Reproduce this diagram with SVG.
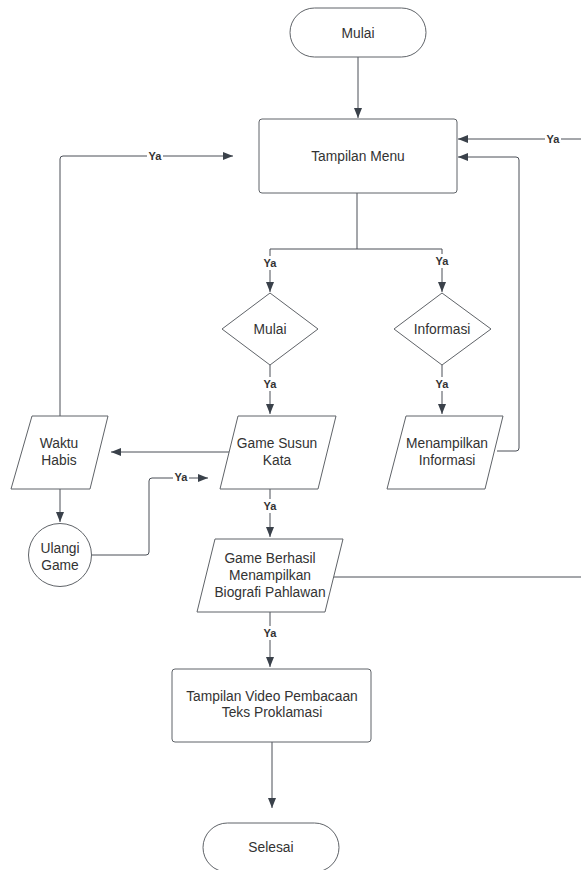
<svg xmlns="http://www.w3.org/2000/svg" width="581" height="870" viewBox="0 0 581 870">
<style>
.shape{fill:#ffffff;stroke:#5f6368;stroke-width:1}
.t{font-family:"Liberation Sans",Arial,sans-serif;font-size:13.8px;fill:#333333;text-anchor:middle;dominant-baseline:central}
.lbl{font-family:"Liberation Sans",Arial,sans-serif;font-size:11px;font-weight:bold;fill:#333333;text-anchor:middle;dominant-baseline:central}
.c{fill:none;stroke:#4a4f57;stroke-width:1}
.bg{fill:#ffffff}
</style>
<defs>
<marker id="arr" markerWidth="10" markerHeight="8" refX="10" refY="4" orient="auto" markerUnits="userSpaceOnUse">
<path d="M0,0 L10,4 L0,8 z" fill="#3a414a"/>
</marker>
</defs>
<rect width="581" height="870" fill="#ffffff"/>
<g id="connectors">
<path class="c" d="M358,57 V118" marker-end="url(#arr)"/>
<path class="c" d="M581,139 H458" marker-end="url(#arr)"/>
<path class="c" d="M497,451 H516 Q519,451 519,448 V160 Q519,157 516,157 H458" marker-end="url(#arr)"/>
<path class="c" d="M60,416 V159 Q60,156 63,156 H233" marker-end="url(#arr)"/>
<path class="c" d="M357,193 V249"/>
<path class="c" d="M270,249 H442"/>
<path class="c" d="M270,249 V292" marker-end="url(#arr)"/>
<path class="c" d="M442,249 V292" marker-end="url(#arr)"/>
<path class="c" d="M270,365 V414" marker-end="url(#arr)"/>
<path class="c" d="M442,365 V414" marker-end="url(#arr)"/>
<path class="c" d="M229,452 H111" marker-end="url(#arr)"/>
<path class="c" d="M60,489 V522" marker-end="url(#arr)"/>
<path class="c" d="M92,555 H146 Q149,555 149,552 V481 Q149,478 152,478 H208" marker-end="url(#arr)"/>
<path class="c" d="M270,489 V537" marker-end="url(#arr)"/>
<path class="c" d="M334,577 H581"/>
<path class="c" d="M270,612 V667" marker-end="url(#arr)"/>
<path class="c" d="M272,742 V808" marker-end="url(#arr)"/>
<g id="labels">
<rect class="bg" x="545" y="132" width="16" height="14"/><text class="lbl" x="553" y="139">Ya</text>
<rect class="bg" x="147" y="149" width="16" height="14"/><text class="lbl" x="155" y="156">Ya</text>
<rect class="bg" x="262" y="256" width="16" height="14"/><text class="lbl" x="270" y="263">Ya</text>
<rect class="bg" x="434" y="254" width="16" height="14"/><text class="lbl" x="442" y="261">Ya</text>
<rect class="bg" x="262" y="377" width="16" height="14"/><text class="lbl" x="270" y="384">Ya</text>
<rect class="bg" x="434" y="377" width="16" height="14"/><text class="lbl" x="442" y="384">Ya</text>
<rect class="bg" x="173" y="471" width="16" height="14"/><text class="lbl" x="181" y="477">Ya</text>
<rect class="bg" x="262" y="499" width="16" height="14"/><text class="lbl" x="270" y="506">Ya</text>
<rect class="bg" x="262" y="626" width="16" height="14"/><text class="lbl" x="270" y="633">Ya</text>
</g>
</g>
<g id="start">
<rect class="shape" x="290" y="8" width="136" height="49" rx="24.5"/>
<text class="t" x="358" y="33">Mulai</text>
</g>
<g id="menu">
<rect class="shape" x="259" y="119" width="198" height="74" rx="3"/>
<text class="t" x="358" y="156">Tampilan Menu</text>
</g>
<g id="dec-mulai">
<polygon class="shape" points="270,293 318,329 270,365 222,329"/>
<text class="t" x="270" y="329">Mulai</text>
</g>
<g id="dec-info">
<polygon class="shape" points="442,293 491,329 442,365 394,329"/>
<text class="t" x="442" y="329">Informasi</text>
</g>
<g id="waktu-habis">
<polygon class="shape" points="32,416 108,416 90,489 11,489" stroke-linejoin="round"/>
<text class="t" x="59" y="443">Waktu</text>
<text class="t" x="59" y="460">Habis</text>
</g>
<g id="game-susun">
<polygon class="shape" points="238,416 336,416 318,489 220,489" stroke-linejoin="round"/>
<text class="t" x="277" y="443">Game Susun</text>
<text class="t" x="277" y="460">Kata</text>
</g>
<g id="info-out">
<polygon class="shape" points="406,416 503,416 485,489 387,489" stroke-linejoin="round"/>
<text class="t" x="447" y="443">Menampilkan</text>
<text class="t" x="447" y="460">Informasi</text>
</g>
<g id="ulangi">
<circle class="shape" cx="60" cy="555" r="31.5"/>
<text class="t" x="60" y="548">Ulangi</text>
<text class="t" x="60" y="565">Game</text>
</g>
<g id="berhasil">
<polygon class="shape" points="215,539 343,539 325,612 197,612" stroke-linejoin="round"/>
<text class="t" x="270" y="558">Game Berhasil</text>
<text class="t" x="270" y="575">Menampilkan</text>
<text class="t" x="270" y="592">Biografi Pahlawan</text>
</g>
<g id="video">
<rect class="shape" x="172" y="669" width="199" height="73" rx="3"/>
<text class="t" x="272" y="696">Tampilan Video Pembacaan</text>
<text class="t" x="272" y="712">Teks Proklamasi</text>
</g>
<g id="end">
<rect class="shape" x="203" y="823" width="136" height="49" rx="24.5"/>
<text class="t" x="271" y="847">Selesai</text>
</g>
</svg>
